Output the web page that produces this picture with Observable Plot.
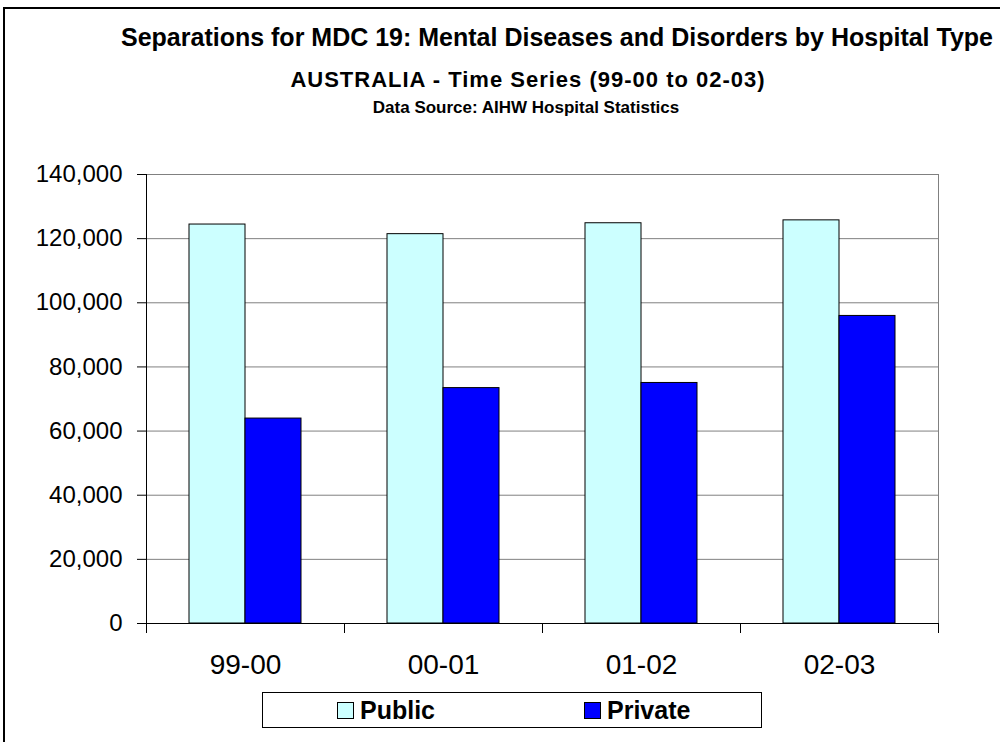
<!DOCTYPE html>
<html>
<head>
<meta charset="utf-8">
<script src="https://cdn.jsdelivr.net/npm/d3@7"></script>
<script src="https://cdn.jsdelivr.net/npm/@observablehq/plot@0.6"></script>
<style>
  html, body { margin: 0; padding: 0; background: #fff; }
  #wrap { position: relative; width: 1000px; height: 742px; overflow: hidden; font-family: "Liberation Sans", Arial, sans-serif; }
  #border { position: absolute; left: 3px; top: 7px; width: 1100px; height: 800px; border: 2px solid #000; box-sizing: border-box; }
  .t { position: absolute; text-align: center; font-weight: bold; white-space: nowrap; color: #000; line-height: 1.15; }
  #chart { position: absolute; left: 0; top: 0; }
  #legend { position: absolute; left: 262px; top: 692px; width: 500px; height: 36px; border: 1px solid #000; box-sizing: border-box; background: #fff; }
  .item { position: absolute; top: 0; height: 34px; display: flex; align-items: center; font-weight: bold; font-size: 25px; }
  .sw { width: 17px; height: 17px; border: 1px solid #000; margin-right: 6px; box-sizing: border-box; }
</style>
</head>
<body>
<div id="wrap">
  <div id="border"></div>
  <div class="t" id="title" style="left:57px; width:1000px; top:22.6px; font-size:25px;">Separations for MDC 19: Mental Diseases and Disorders by Hospital Type</div>
  <div class="t" id="sub" style="left:28px; width:1000px; top:67.4px; font-size:22px; letter-spacing:1px;">AUSTRALIA - Time Series (99-00 to 02-03)</div>
  <div class="t" id="src" style="left:26px; width:1000px; top:98px; font-size:17px;">Data Source: AIHW Hospital Statistics</div>
  <div id="chart"></div>
  <div id="legend"></div>
</div>
<script>
const periods = ["99-00", "00-01", "01-02", "02-03"];
const types = ["Public", "Private"];
const publicValues = [124400, 121400, 124800, 125700];
const privateValues = [63900, 73400, 75000, 95900];
const typeColors = ["#CCFFFF", "#0000FF"];
const yTicks = [0, 20000, 40000, 60000, 80000, 100000, 120000, 140000];

const data = [];
periods.forEach((p, i) => {
  data.push({period: p, type: "Public", value: publicValues[i]});
  data.push({period: p, type: "Private", value: privateValues[i]});
});

const font = "'Liberation Sans', Arial, sans-serif";
const chart = Plot.plot({
  width: 1000,
  height: 683,
  marginTop: 174,
  marginBottom: 60,
  marginLeft: 146,
  marginRight: 62,
  style: {fontFamily: font, background: "transparent", color: "#000"},
  fx: {domain: periods, padding: 0, axis: null, label: null},
  x: {domain: types, paddingInner: 0, paddingOuter: 0.75, axis: null, label: null},
  y: {domain: [0, 140000], axis: null, label: null},
  color: {domain: types, range: typeColors},
  marks: [
    Plot.gridY(yTicks, {stroke: "#808080", strokeOpacity: 1}),
    Plot.frame({anchor: "top", stroke: "#808080"}),
    Plot.frame({anchor: "right", stroke: "#808080", facetAnchor: "right"}),
    Plot.barY(data, {fx: "period", x: "type", y: "value", fill: "type", stroke: "#000", strokeWidth: 1}),
    Plot.frame({anchor: "left", stroke: "#000", facetAnchor: "left"}),
    Plot.frame({anchor: "bottom", stroke: "#000"}),
    Plot.axisY(yTicks, {tickSize: 9, tickPadding: 15, tickFormat: d3.format(","), fontSize: 24, stroke: "#000", label: null}),
    Plot.axisFx({anchor: "bottom", tickSize: 0, tickPadding: 31, fontSize: 28, label: null}),
    Plot.axisFx({anchor: "bottom", tickSize: 10, tickFormat: () => "", dx: -99, label: null}),
    Plot.axisFx({anchor: "bottom", tickSize: 10, tickFormat: () => "", dx: 99, label: null})
  ]
});
document.getElementById("chart").appendChild(chart);

const legend = document.getElementById("legend");
const lefts = [74, 321];
types.forEach((t, i) => {
  const it = document.createElement("div");
  it.className = "item";
  it.style.left = lefts[i] + "px";
  const sw = document.createElement("div");
  sw.className = "sw";
  sw.style.background = typeColors[i];
  it.appendChild(sw);
  it.appendChild(document.createTextNode(t));
  legend.appendChild(it);
});
</script>
</body>
</html>
